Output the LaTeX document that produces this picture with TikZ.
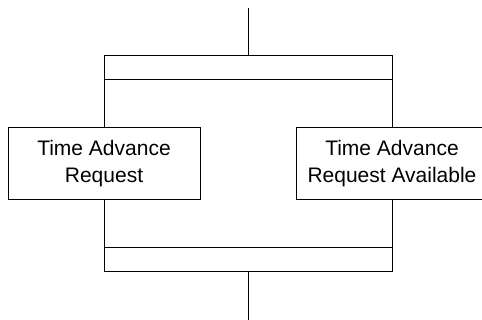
\documentclass[tikz,border=0pt]{standalone}
\usepackage{fontspec}
\setmainfont{Liberation Sans}
\usepackage{tikz}
\usetikzlibrary{positioning, calc}

\begin{document}
\begin{tikzpicture}[
    x=1pt, y=-1pt,
    every node/.style={font=\fontsize{21}{27}\selectfont},
    bar/.style={draw, line width=1pt, minimum width=288pt, minimum height=24pt, inner sep=0pt},
    box/.style={draw, line width=1pt, minimum width=192pt, minimum height=72pt, align=center, inner sep=0pt},
    link/.style={line width=1pt}
]
    \clip (0,0) rectangle (482,320);

    % Bars
    \node[bar] (fork) at (248,68) {};
    \node[bar] (join) at (248,260) {};

    % Branches
    \node[box] (tar) at (104,164) {Time Advance\\Request};
    \node[box] (tara) at (392,164) {Time Advance\\Request Available};

    % In and out
    \coordinate (in) at (248,8);
    \coordinate (out) at (248,320);

    % Connectors
    \draw[link] (in) -- (fork.north);
    \draw[link] (tar.north) -- (tar.north |- fork.south);
    \draw[link] (tara.north) -- (tara.north |- fork.south);
    \draw[link] (tar.south) -- (tar.south |- join.north);
    \draw[link] (tara.south) -- (tara.south |- join.north);
    \draw[link] (join.south) -- (out);
\end{tikzpicture}
\end{document}
